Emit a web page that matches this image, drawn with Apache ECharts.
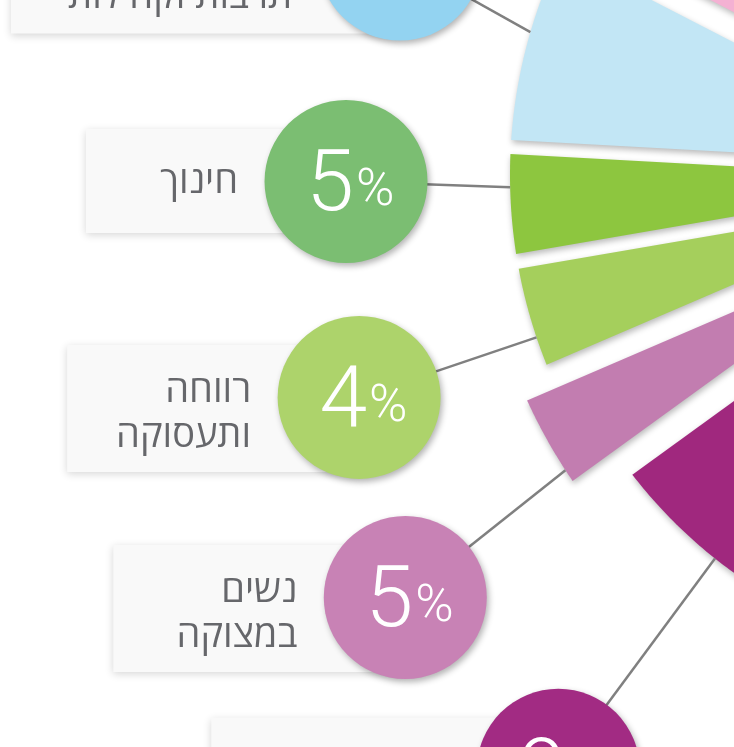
<!DOCTYPE html>
<html><head><meta charset="utf-8">
<script src="https://cdn.jsdelivr.net/npm/echarts@6/dist/echarts.min.js"></script>
<style>html,body{margin:0;padding:0;background:#fff}#c{width:734px;height:747px}</style>
</head><body><div id="c"></div>
<script>
// ---- data ----
const categories = ['מוסדות ציבור', 'קרנות\nתרבות וקהילות', 'חינוך', 'רווחה\nותעסוקה', 'נשים\nבמצוקה', 'בריאות'];
const pctLabels = ['', '10%', '5%', '4%', '5%', '9%'];
const sliceSweep = [22.7, 24.15, 12.9, 13.5, 12.7, 44];   // angular extent (deg)
const sliceRadius = [560, 510, 510, 510, 542, 490];       // outer radius value

// ---- styles / layout ----
const sliceColors = ['#F4B1D3', '#C2E6F5', '#8DC63F', '#A5CF5C', '#C27DB0', '#A0287E'];
const circleColors = [null, '#93D3F1', '#7BBE72', '#ADD36B', '#C882B5', '#A22B83'];
const firstAngle = 40;
const halfGaps = [8, 13.5, 7, 7.5, 12.5, 15, 8];
const labelLayout = [
  null,
  { r: 656.5, a: 70.8, anchor: 73.74, boxW: 389 },
  { r: 674, a: 90.55, anchor: 91.38, boxW: 260 },
  { r: 697.3, a: 108.6, anchor: 108.56, boxW: 292 },
  { r: 745.9, a: 124.5, anchor: 123.0, boxW: 292 },
  { r: 753.3, a: 142.2, anchor: 141.5, boxW: 347 }
];

const seriesData = [];
let acc = firstAngle;
sliceSweep.forEach((s, i) => { seriesData.push([sliceRadius[i], acc, acc + s]); acc += s; });

const deg = x => x * 180 / Math.PI;

function renderItem(params, api) {
  const i = params.dataIndex;
  const R = api.value(0), a0 = api.value(1), a1 = api.value(2);
  const g0 = halfGaps[i], g1 = halfGaps[i + 1];
  const rin = 200;
  const pts = [];
  pts.push(api.coord([rin, a0 + deg(Math.asin(g0 / rin))]));
  const s = a0 + deg(Math.asin(g0 / R)), e = a1 - deg(Math.asin(g1 / R));
  const N = 80;
  for (let k = 0; k <= N; k++) pts.push(api.coord([R, s + (e - s) * k / N]));
  pts.push(api.coord([rin, a1 - deg(Math.asin(g1 / rin))]));
  const children = [{
    type: 'polygon', shape: { points: pts },
    style: { fill: sliceColors[i], shadowBlur: 6, shadowOffsetX: 1, shadowOffsetY: 3, shadowColor: 'rgba(0,0,0,0.28)' }
  }];
  const L = labelLayout[i];
  if (L) {
    const c = api.coord([L.r, L.a]);
    const p = api.coord([R, L.anchor]);
    const nLines = categories[i].split('\n').length;
    const boxH = nLines > 1 ? 127 : 104;
    const boxTop = c[1] - 52.5;
    children.push({ type: 'line', shape: { x1: c[0], y1: c[1], x2: p[0], y2: p[1] }, style: { stroke: '#808080', lineWidth: 2.5 } });
    children.push({ type: 'rect', shape: { x: c[0] - L.boxW, y: boxTop, width: L.boxW, height: boxH },
      style: { fill: '#F9F9F9', shadowBlur: 8, shadowColor: 'rgba(0,0,0,0.16)', shadowOffsetY: 2 } });
    children.push({ type: 'text', x: c[0] - 108, y: nLines > 1 ? c[1] + 16 : c[1] + 1,
      style: { text: categories[i], align: 'right', verticalAlign: 'middle', fill: '#66676B',
        fontSize: 38, fontFamily: '"Open Sans", "Liberation Sans", sans-serif', lineHeight: 45 } });
    children.push({ type: 'circle', shape: { cx: c[0], cy: c[1], r: 81.5 },
      style: { fill: circleColors[i], shadowBlur: 6, shadowOffsetX: 2, shadowOffsetY: 3, shadowColor: 'rgba(0,0,0,0.3)' } });
    const num = pctLabels[i].replace('%', '');
    children.push({ type: 'text', x: c[0] + 8, y: c[1] + 7,
      style: { text: num, align: 'right', verticalAlign: 'middle', fill: '#fff', fontSize: 86, fontFamily: 'Roboto', fontWeight: 300 } });
    children.push({ type: 'text', x: c[0] + 10, y: c[1] + 11,
      style: { text: '%', align: 'left', verticalAlign: 'middle', fill: '#fff', fontSize: 52, fontFamily: 'Roboto', fontWeight: 300 } });
  }
  return { type: 'group', children };
}

const chart = echarts.init(document.getElementById('c'));
chart.setOption({
  animation: false,
  backgroundColor: '#ffffff',
  polar: { center: [1020, 175], radius: 800 },
  radiusAxis: { min: 0, max: 800, show: false },
  angleAxis: { type: 'value', min: 0, max: 360, startAngle: 90, clockwise: false, show: false },
  series: [{
    type: 'custom', coordinateSystem: 'polar', clip: false,
    dimensions: ['radius', 'angle', 'end'],
    encode: { radius: 0, angle: 1 },
    data: seriesData,
    renderItem
  }]
});
</script>
</body></html>
